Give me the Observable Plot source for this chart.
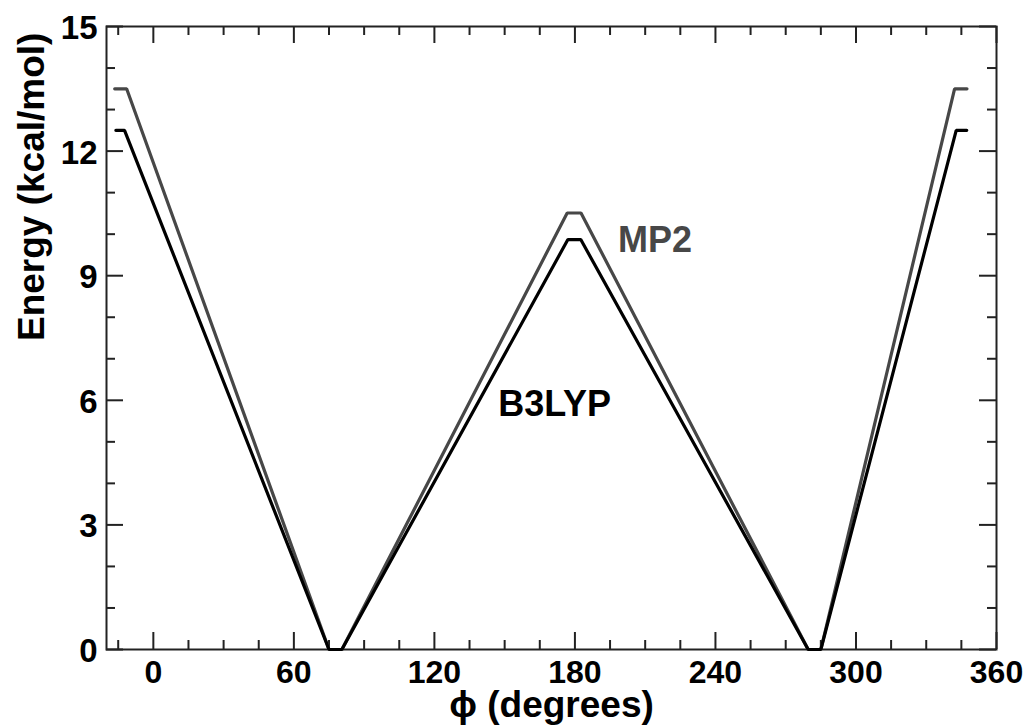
<!DOCTYPE html>
<html>
<head>
<meta charset="utf-8">
<script src="https://cdn.jsdelivr.net/npm/d3@7"></script>
<script src="https://cdn.jsdelivr.net/npm/@observablehq/plot@0.6"></script>
<style>
  html, body { margin: 0; padding: 0; background: #fff; }
</style>
</head>
<body>
<div id="chart"></div>
<script>
// ---- data ----
const phiB3LYP    = [-16, -12.3, 75, 80.5, 177, 182.5, 279.6, 285, 342.8, 347.3];
const energyB3LYP = [12.5, 12.5, 0, 0, 9.87, 9.87, 0, 0, 12.5, 12.5];
const phiMP2      = [-16.5, -11.4, 75, 80.5, 176.7, 182.6, 279.6, 285, 342.1, 347.4];
const energyMP2   = [13.5, 13.5, 0, 0, 10.51, 10.51, 0, 0, 13.5, 13.5];

const seriesNames = ["MP2", "B3LYP"];
const labelPhi    = [198.4, 147.3];
const labelEnergy = [9.57, 5.63];

const xMajorTicks = [0, 60, 120, 180, 240, 300, 360];
const xMinorTicks = [-15, 15, 30, 45, 75, 90, 105, 135, 150, 165, 195, 210, 225, 255, 270, 285, 315, 330, 345];
const yMajorTicks = [0, 3, 6, 9, 12, 15];
const yMinorTicks = [1, 2, 4, 5, 7, 8, 10, 11, 13, 14];

const xTitle = "\u03D5 (degrees)";
const yTitle = "Energy (kcal/mol)";

// ---- build tables ----
const rowsB3LYP = phiB3LYP.map((p, i) => ({phi: p, energy: energyB3LYP[i]}));
const rowsMP2 = phiMP2.map((p, i) => ({phi: p, energy: energyMP2[i]}));
const labels = seriesNames.map((n, i) => ({name: n, phi: labelPhi[i], energy: labelEnergy[i]}));

// ---- layout ----
const W = 1029, H = 728;
const mL = 106, mR = 33, mT = 26, mB = 79;
const fw = W - mL - mR, fh = H - mT - mB;
const majorLen = 17, minorLen = 9;
const ink = "#222";
const font = "'Liberation Sans', Arial, Helvetica, sans-serif";
const colMP2 = "#474747", colB3 = "#000";

const chart = Plot.plot({
  width: W, height: H,
  marginLeft: mL, marginRight: mR, marginTop: mT, marginBottom: mB,
  x: {domain: [-20, 360], axis: null},
  y: {domain: [0, 15], axis: null},
  style: {fontFamily: font, background: "#fff", overflow: "visible"},
  marks: [
    // inward ticks: bottom
    Plot.ruleX(xMajorTicks, {x: d => d, stroke: ink, strokeWidth: 2, insetTop: fh - majorLen}),
    Plot.ruleX(xMinorTicks, {x: d => d, stroke: ink, strokeWidth: 2, insetTop: fh - minorLen}),
    // top
    Plot.ruleX(xMajorTicks, {x: d => d, stroke: ink, strokeWidth: 2, insetBottom: fh - majorLen}),
    Plot.ruleX(xMinorTicks, {x: d => d, stroke: ink, strokeWidth: 2, insetBottom: fh - minorLen}),
    // left
    Plot.ruleY(yMajorTicks, {y: d => d, stroke: ink, strokeWidth: 2, insetRight: fw - majorLen}),
    Plot.ruleY(yMinorTicks, {y: d => d, stroke: ink, strokeWidth: 2, insetRight: fw - minorLen}),
    // right
    Plot.ruleY(yMajorTicks, {y: d => d, stroke: ink, strokeWidth: 2, insetLeft: fw - majorLen}),
    Plot.ruleY(yMinorTicks, {y: d => d, stroke: ink, strokeWidth: 2, insetLeft: fw - minorLen}),
    Plot.frame({stroke: ink, strokeWidth: 2}),

    // curves
    Plot.line(rowsMP2, {x: "phi", y: "energy", stroke: colMP2, strokeWidth: 3.2, strokeLinejoin: "miter"}),
    Plot.line(rowsB3LYP, {x: "phi", y: "energy", stroke: colB3, strokeWidth: 3.2, strokeLinejoin: "miter"}),

    // series labels
    Plot.text(labels, {x: "phi", y: "energy", text: "name", textAnchor: "start", lineAnchor: "bottom",
      fontSize: 36, fontWeight: "bold", fill: (d) => d.name === "MP2" ? colMP2 : colB3}),

    // tick labels
    Plot.text(xMajorTicks, {x: d => d, text: d => String(d), frameAnchor: "bottom", lineAnchor: "middle",
      dy: 23, fontSize: 32, fontWeight: "bold", fill: "#000"}),
    Plot.text(yMajorTicks, {y: d => d, text: d => String(d), frameAnchor: "left", textAnchor: "end",
      lineAnchor: "middle", dx: -9, dy: 2, fontSize: 33, fontWeight: "bold", fill: "#000"}),

    // axis titles
    Plot.text([xTitle], {text: d => d, frameAnchor: "bottom", lineAnchor: "bottom", dy: 67,
      fontSize: 37, fontWeight: "bold", fill: "#000"}),
    Plot.text([yTitle], {text: d => d, frameAnchor: "left", lineAnchor: "bottom", rotate: -90, dx: -63, dy: 3,
      fontSize: 37, fontWeight: "bold", fill: "#000"})
  ]
});
document.getElementById("chart").appendChild(chart);
</script>
</body>
</html>
